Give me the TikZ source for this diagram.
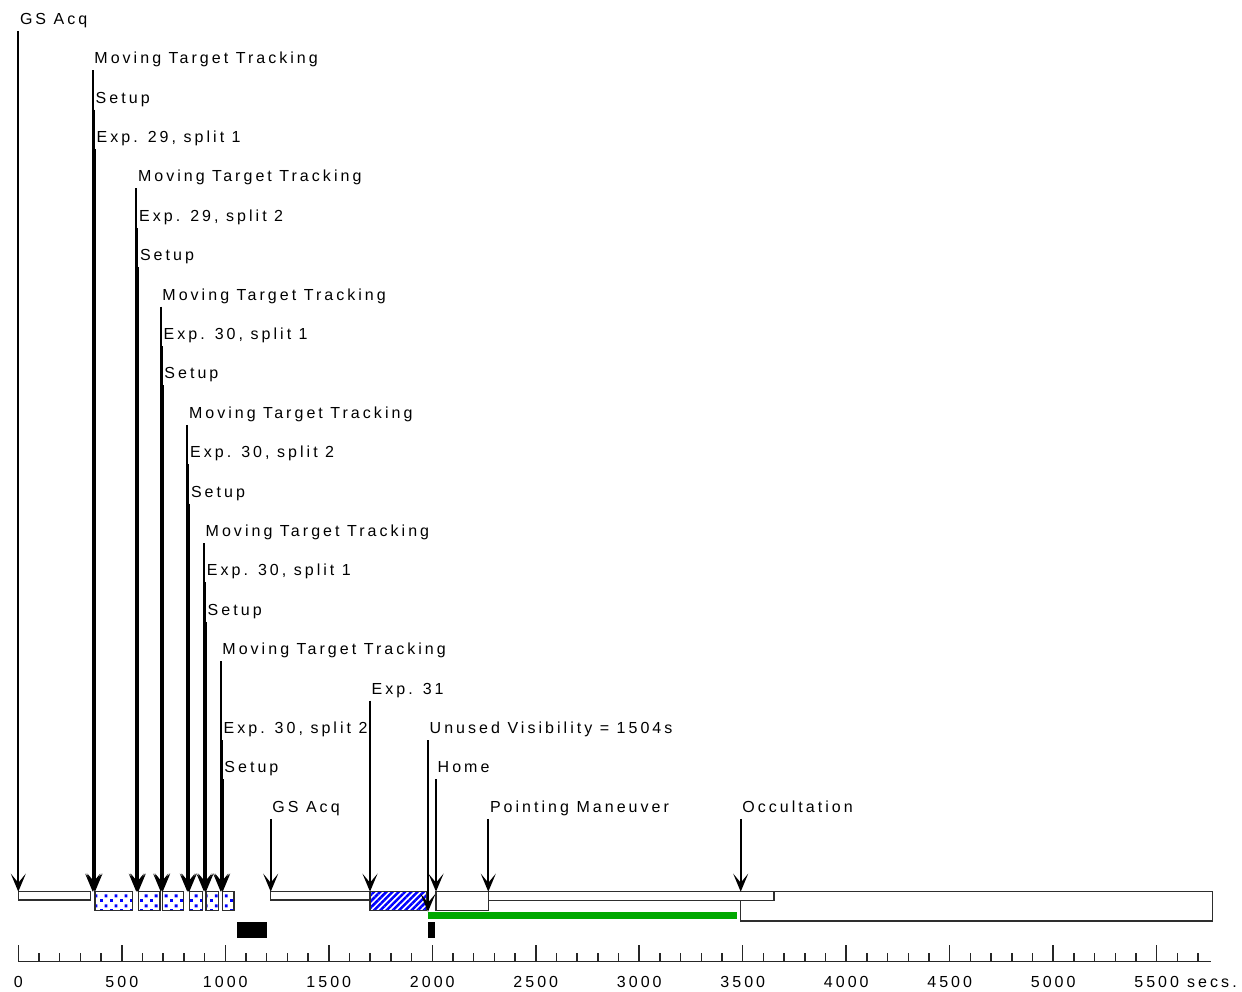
\documentclass[tikz,border=0pt]{standalone}
\usepackage{fontspec}
\newfontfamily\labfont{Liberation Sans}[LetterSpace=19]
\usetikzlibrary{arrows.meta,patterns.meta}
\definecolor{barline}{rgb}{0.18,0.18,0.18}
\definecolor{ggreen}{RGB}{0,168,0}
\tikzdeclarepattern{
  name=bluedots,
  type=colored,
  bounding box={(0pt,0pt) and (10pt,10pt)},
  tile size={(10pt,10pt)},
  code={
    \fill[blue] (0pt,0pt) rectangle (3pt,3pt);
    \fill[blue] (5pt,5pt) rectangle (8pt,8pt);
  }
}
\tikzset{
  lab/.style={font=\labfont\fontsize{16pt}{18pt}\selectfont, inner sep=0pt, anchor=base west, text=black},
  arr/.style={line width=1.8pt, draw=black, -{Stealth[length=18pt,width=15pt,inset=9pt]}},
  bar/.style={draw=barline, line width=1.5pt, fill=white},
  dotbar/.style={bar, preaction={fill=white}, pattern=bluedots},
  hatchbar/.style={bar, preaction={fill=white}, pattern={Lines[angle=45,distance=4.4pt,line width=2.5pt]}, pattern color=blue},
  axisline/.style={line width=1.5pt, draw=black!85},
}
\begin{document}
\begin{tikzpicture}[x=1pt,y=-1pt]
\useasboundingbox (0,0) rectangle (1242,992);

% ---------- bars ----------
\draw[bar] (740.7,891.7) rectangle (1212.7,921);
\draw[bar] (488.3,891.7) rectangle (774,900.5);
\draw[bar] (18.3,891.7) rectangle (90.7,900);
\draw[bar] (270.7,891.7) rectangle (370,900);
\foreach \a/\b in {95/132.7,138.3/160,162.7/183.3,189.3/202.7,206/218.3,222.7/234}
  \draw[dotbar] (\a,891.7) rectangle (\b,910.7);
\draw[hatchbar] (370,891.7) rectangle (426.7,910.7);
\draw[bar] (436,891.7) rectangle (488.3,910.7);
\fill[ggreen] (427.7,911.7) rectangle (736.7,919.3);
\fill[black] (236.7,921.7) rectangle (267.3,938.3);
\fill[black] (427.7,921.7) rectangle (435,938.3);

% ---------- labels ----------
\foreach \n/\r/\x/\t in {
  0/0/18.3/{GS Acq},
  1/1/92.7/{Moving Target Tracking},
  2/2/94/{Setup},
  3/3/95/{Exp. 29, split 1},
  4/4/136.3/{Moving Target Tracking},
  5/5/137.5/{Exp. 29, split 2},
  6/6/138.3/{Setup},
  7/7/160.7/{Moving Target Tracking},
  8/8/162/{Exp. 30, split 1},
  9/9/162.7/{Setup},
  10/10/187.3/{Moving Target Tracking},
  11/11/188.5/{Exp. 30, split 2},
  12/12/189.3/{Setup},
  13/13/204/{Moving Target Tracking},
  14/14/205.2/{Exp. 30, split 1},
  15/15/206/{Setup},
  16/16/220.7/{Moving Target Tracking},
  17/17/370/{Exp. 31},
  18/18/221.9/{Exp. 30, split 2},
  19/18/428/{Unused Visibility = 1504s},
  20/19/222.7/{Setup},
  21/19/436/{Home},
  22/20/270.7/{GS Acq},
  23/20/488.3/{Pointing Maneuver},
  24/20/740.7/{Occultation}}{
  \node[lab] (L\n) at ({\x+1.5},{24.3+39.4*\r}) {\t};
  \coordinate (T\n) at (\x,891.7);
}
\coordinate (T19) at (428,911.7);

\foreach \n in {0,...,24}
  \draw[arr] ([xshift=-1.5pt,yshift=-6.5pt]L\n.base west) -- (T\n);

% ---------- axis ----------
\coordinate (A0) at (18.3,961.7);
\coordinate (A1) at (1211,961.7);
\draw[axisline] (A0) -- (A1);
\foreach \k in {0,...,57}{
  \pgfmathsetmacro{\xx}{18.3+\k*20.698}
  \pgfmathtruncatemacro{\mm}{mod(\k,5)}
  \ifnum\mm=0
    \draw[axisline] (\xx,945) -- (\xx,961.7);
  \else
    \draw[axisline] (\xx,953.3) -- (\xx,961.7);
  \fi
}
\foreach \v in {0,500,...,5500}{
  \node[lab, anchor=base] (N\v) at ({18.3+\v*0.20698},987.5) {\v};
}
\node[lab] (secs) at (1187,987.5) {secs.};
\end{tikzpicture}
\end{document}
